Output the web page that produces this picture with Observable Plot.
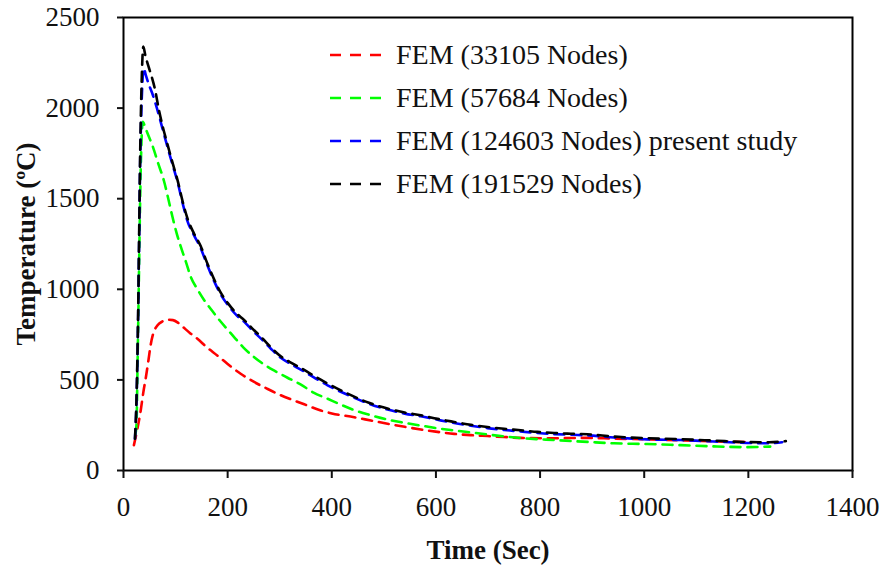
<!DOCTYPE html>
<html>
<head>
<meta charset="utf-8">
<script src="https://cdn.jsdelivr.net/npm/d3@7"></script>
<script src="https://cdn.jsdelivr.net/npm/@observablehq/plot@0.6"></script>
<style>
  html, body { margin: 0; padding: 0; background: #fff; }
  #wrap { position: relative; width: 882px; height: 568px; }
  #legend { position: absolute; left: 330px; top: 33px; font-family: "Liberation Serif", "Times New Roman", serif; font-size: 28px; color: #111; }
  .item { display: flex; align-items: center; height: 43px; white-space: nowrap; }
  .item svg { margin-right: 14px; }
</style>
</head>
<body>
<div id="wrap"><div id="legend"></div></div>
<script>
const seriesNames = ["FEM (33105 Nodes)", "FEM (57684 Nodes)", "FEM (124603 Nodes) present study", "FEM (191529 Nodes)"];
const seriesColors = ["#ff0000", "#00ff00", "#0000ff", "#000000"];
const xTicks = [0, 200, 400, 600, 800, 1000, 1200, 1400];
const yTicks = [0, 500, 1000, 1500, 2000, 2500];
const xLabel = "Time (Sec)";
const yLabel = "Temperature (ºC)";

const redTime = [20,26,33,38,43,48,52,57,65,75,85,95,105,115,128,142,160,180,200,225,250,276,300,328,350,379,400,443,475,507,540,571,603,635,667,699,731,763,827,891,942,1006,1070,1134,1172,1205];
const redTemp = [140,220,330,430,515,610,690,755,800,823,832,830,815,790,758,727,680,635,588,534,490,451,418,386,362,331,315,294,276,258,241,226,213,202,195,190,185,180,178,180,176,172,166,161,158,156];

const greenTime = [23,25,27,29,31,33,35,37,42,49,56,66,78,86,94,102,110,120,129,142,155,168,180,196,212,230,251,270,289,315,340,365,392,420,443,475,507,540,571,603,635,667,699,731,763,795,827,859,891,942,1006,1070,1134,1198,1242];
const greenTemp = [200,260,590,950,1330,1650,1850,1925,1890,1840,1790,1700,1595,1500,1400,1310,1235,1150,1070,1000,940,890,845,790,738,680,625,585,552,512,475,430,396,360,333,305,281,263,248,233,221,210,199,188,179,173,168,163,158,150,146,140,133,129,132];

const blueTime = [22,25,28,30,32,34,36,39,43,50,56,62,68,76,84,94,104,114,123,135,148,160,174,187,200,216,232,248,264,283,302,325,347,370,392,430,470,507,540,571,603,635,667,699,731,763,795,827,859,891,942,1006,1070,1134,1198,1240,1265];
const blueTemp = [175,380,820,1250,1700,1950,2120,2220,2180,2120,2075,2020,1960,1875,1790,1690,1590,1470,1375,1300,1228,1140,1045,970,915,860,820,772,728,672,622,582,546,506,470,418,370,336,314,299,280,262,247,234,224,215,207,201,197,194,182,172,168,160,152,150,156];

const blackTime = [22,25,28,30,32,34,36,38,42,48,54,60,68,76,84,94,104,114,123,135,148,160,174,187,200,216,232,248,264,283,302,325,347,370,392,430,470,507,540,571,603,635,667,699,731,763,795,827,859,891,942,1006,1070,1134,1198,1240,1272];
const blackTemp = [175,400,850,1300,1750,2050,2250,2340,2290,2230,2175,2110,1990,1890,1805,1700,1600,1480,1390,1310,1240,1150,1055,980,925,870,830,782,738,680,630,590,555,515,480,425,375,342,320,305,285,268,252,240,230,222,213,207,203,200,187,178,173,165,157,156,162];

const times = [redTime, greenTime, blueTime, blackTime];
const temps = [redTemp, greenTemp, blueTemp, blackTemp];
const rows = [];
seriesNames.forEach((name, i) => {
  times[i].forEach((t, j) => rows.push({series: name, t, T: temps[i][j]}));
});

const font = "Liberation Serif, Times New Roman, serif";
const lineMarks = seriesNames.map((name, i) =>
  Plot.line(rows.filter(d => d.series === name), {
    x: "t", y: "T", stroke: seriesColors[i], strokeWidth: 2.6,
    strokeDasharray: "10,7", curve: "monotone-x"
  })
);

const chart = Plot.plot({
  width: 882, height: 568,
  marginLeft: 123, marginRight: 30, marginTop: 17, marginBottom: 98,
  style: {fontFamily: font, fontSize: "27px", background: "white", color: "#111", overflow: "visible"},
  x: {domain: [0, 1400]},
  y: {domain: [0, 2500]},
  marks: [
    ...lineMarks,
    Plot.frame({stroke: "#000", strokeWidth: 2}),
    Plot.axisX({ticks: xTicks, tickSize: 8, tickPadding: 18, strokeWidth: 2, label: null, fontSize: 27, tickFormat: d => String(d)}),
    Plot.axisY({ticks: yTicks, tickSize: 6, tickPadding: 18, strokeWidth: 2, label: null, fontSize: 27, tickFormat: d => String(d)}),
    Plot.text([xLabel], {frameAnchor: "bottom", dy: 80, fontWeight: "bold", fontSize: 27, fill: "#111", lineAnchor: "middle"}),
    Plot.text([yLabel], {frameAnchor: "left", dx: -97, rotate: -90, fontWeight: "bold", fontSize: 27, fill: "#111", textAnchor: "middle", lineAnchor: "middle"})
  ]
});
document.getElementById("wrap").prepend(chart);

const legend = document.getElementById("legend");
seriesNames.forEach((name, i) => {
  const item = document.createElement("div");
  item.className = "item";
  item.innerHTML = `<svg width="52" height="6"><line x1="0" y1="3" x2="52" y2="3" stroke="${seriesColors[i]}" stroke-width="2.6" stroke-dasharray="11,9"/></svg><span>${name}</span>`;
  legend.appendChild(item);
});
</script>
</body>
</html>
